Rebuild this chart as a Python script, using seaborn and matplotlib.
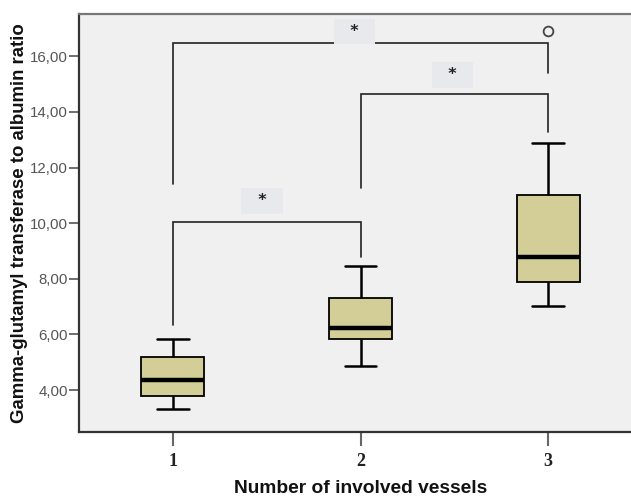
import matplotlib
matplotlib.use("Agg")
import matplotlib.pyplot as plt
import seaborn as sns
import pandas as pd

# Five-number summaries, plus outliers
groups = ["1", "2", "3"]
whisker_low = [3.33, 4.87, 7.03]
q1 = [3.77, 5.83, 7.87]
median = [4.35, 6.24, 8.80]
q3 = [5.19, 7.30, 11.01]
whisker_high = [5.82, 8.46, 12.87]
outliers = [None, None, 16.91]

# significance brackets: (left group, right group, top, left leg end, right leg end)
brackets = [(0, 1, 10.04, 6.34, 8.80),
            (1, 2, 14.65, 11.27, 13.28),
            (0, 2, 16.47, 11.41, 15.41)]
star_pos = [(0.475, 10.80), (1.49, 15.33), (0.97, 16.89)]

# build a table whose quartiles reproduce the summaries (n=9 -> q1=v2, med=v4, q3=v6)
rows = []
for i, g in enumerate(groups):
    extra = outliers[i] if outliers[i] is not None else whisker_high[i]
    vals = [whisker_low[i], q1[i], q1[i], median[i], median[i], q3[i], q3[i], whisker_high[i], extra]
    rows += [{"vessels": g, "ratio": v} for v in vals]
df = pd.DataFrame(rows)

sns.set_style("ticks")
plt.rcParams['font.family'] = ['Liberation Sans', 'DejaVu Sans']

fig = plt.figure(figsize=(6.31, 4.96), dpi=100)
W, H = 631, 496
ax = fig.add_axes([79 / W, (H - 432) / H, (642 - 79) / W, (432 - 14) / H])
ax.set_facecolor("#F0F0F0")

sns.boxplot(data=df, x="vessels", y="ratio", order=groups, width=0.334,
            color="#D3CE98", saturation=1, linecolor="black", linewidth=1.3,
            medianprops={"linewidth": 3.2, "color": "black"},
            whiskerprops={"linewidth": 1.8}, capprops={"linewidth": 1.8},
            flierprops={"marker": "o", "markersize": 7, "markerfacecolor": "none",
                        "markeredgecolor": "#444444", "markeredgewidth": 1.3},
            ax=ax)

# brackets
for (a, b, top, la, lb) in brackets:
    ax.plot([a, a, b, b], [la, top, top, lb], color="#222222", linewidth=1.2,
            solid_joinstyle="miter", zorder=3)
for (sx, sy) in star_pos:
    ax.text(sx, sy, "  *  ", ha="center", va="center", fontsize=11.5, color="#222222",
            family="DejaVu Sans", fontweight="bold",
            bbox=dict(boxstyle="square,pad=0.32", facecolor="#E7E9EC", edgecolor="none"))

ax.set_xlim(-0.5, 2.5)
ax.set_ylim(2.49, 17.52)
ax.set_yticks([4, 6, 8, 10, 12, 14, 16])
ax.set_yticklabels(["4,00", "6,00", "8,00", "10,00", "12,00", "14,00", "16,00"])
ax.tick_params(axis="y", length=7, width=1.2, color="#555555", labelsize=10.8,
               labelcolor="#555555", pad=1)
ax.tick_params(axis="x", length=10, width=1.5, color="#666666", pad=5)
for lab in ax.get_xticklabels():
    lab.set_family("Liberation Serif")
    lab.set_fontweight("bold")
    lab.set_fontsize(13)
    lab.set_color("#222222")

for s in ["left", "bottom"]:
    ax.spines[s].set_color("#333333")
    ax.spines[s].set_linewidth(1.6)
ax.spines["top"].set_visible(True)
ax.spines["top"].set_color("#777777")
ax.spines["top"].set_linewidth(1.6)
ax.spines["right"].set_visible(False)

ax.set_xlabel("Number of involved vessels", fontsize=13.8, fontweight="bold",
              color="#111111", labelpad=7)
ax.set_ylabel("Gamma-glutamyl transferase to albumin ratio", fontsize=13.4,
              fontweight="bold", color="#111111", labelpad=1)

fig.savefig("out.png", dpi=100)
